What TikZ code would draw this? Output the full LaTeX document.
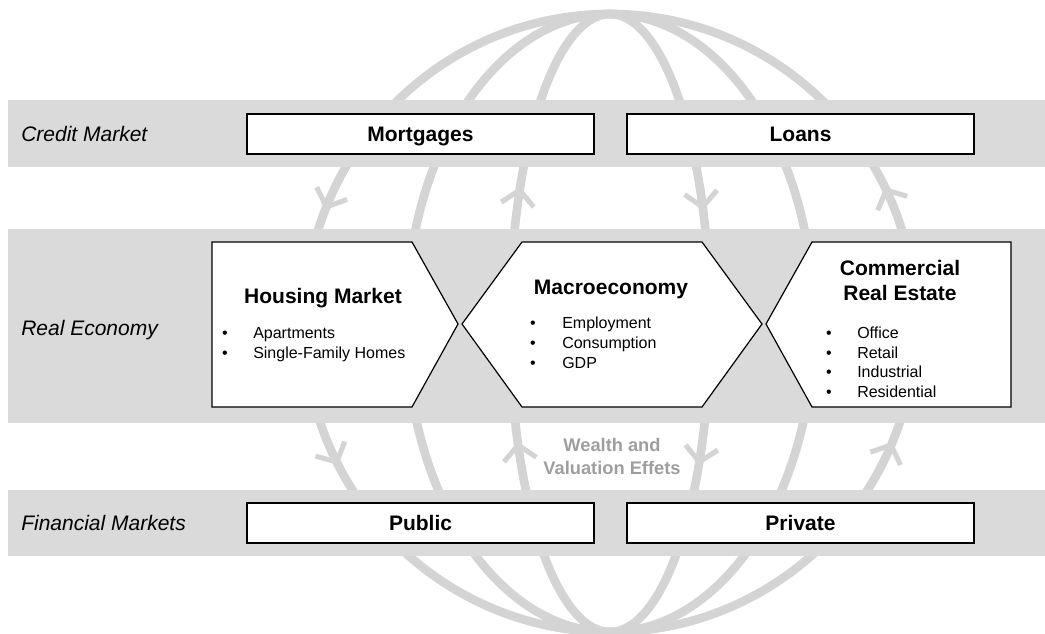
\documentclass[tikz,border=0pt]{standalone}
\usepackage{fontspec}
\setmainfont{Liberation Sans}
\definecolor{globegray}{RGB}{212,212,212}
\definecolor{bandgray}{RGB}{218,218,218}
\definecolor{wealthgray}{RGB}{158,158,158}
\begin{document}
\begin{tikzpicture}[x=0.75pt,y=-0.75pt,
	meridian/.style={globegray,line width=6.5pt},
	barb/.style={globegray,line width=3.8pt,line join=miter},
	band/.style={fill=bandgray},
	bandlabel/.style={anchor=west,inner sep=0pt,text height=11.3pt,text depth=0pt,font=\fontsize{15.75}{18}\selectfont\itshape},
	box/.style={draw,fill=white,line width=1pt,minimum width=260.25pt,minimum height=30pt,text height=11.3pt,text depth=0pt,font=\fontsize{15.75}{18}\selectfont\bfseries},
	sector/.style={draw,fill=white,line width=0.9pt},
	title/.style={inner sep=0pt,text height=11.3pt,text depth=0pt,font=\fontsize{15.75}{18}\selectfont\bfseries},
	item/.style={anchor=west,inner sep=0pt,text height=8.6pt,text depth=0pt,font=\fontsize{12}{14}\selectfont},
	dot/.style={inner sep=0pt,text height=8.6pt,text depth=0pt,font=\fontsize{12}{14}\selectfont},
	wealth/.style={inner sep=0pt,text height=9.8pt,text depth=0pt,wealthgray,font=\fontsize{13.7}{16}\selectfont\bfseries}]
	\useasboundingbox (0,0) rectangle (1045,634);
	% globe
	\foreach \a in {306,204,100}
		\draw[meridian] (610,323) ellipse [x radius=\a, y radius=309];
	% arrows on the meridians (side/half width/tip y/down or up)
	\foreach \s/\a/\yt/\d in {-1/306/207/1,-1/100/190/-1,1/100/207/1,1/306/190/-1,-1/306/462/1,-1/100/445/-1,1/100/462/1,1/306/445/-1}{
		\pgfmathsetmacro{\t}{asin((323-\yt)/309)}
		\pgfmathsetmacro{\xt}{610+(\s)*(\a)*cos(\t)}
		\pgfmathsetmacro{\ang}{atan2((\d)*309*cos(\t),(\d)*(\s)*(\a)*sin(\t))}
		\draw[barb] (\xt,\yt) ++(\ang+180-48:22) -- (\xt,\yt) -- ++(\ang+180+48:22);
	}
	% bands
	\fill[band] (8,100) rectangle (1045,167);
	\fill[band] (8,229) rectangle (1045,423);
	\fill[band] (8,490) rectangle (1045,556);
	\node[bandlabel] (credit) at (21,134) {Credit Market};
	\node[bandlabel] (real) at (21,328) {Real Economy};
	\node[bandlabel] (financial) at (21,523) {Financial Markets};
	% credit market
	\node[box] (mortgages) at (420.5,134) {Mortgages};
	\node[box] (loans) at (800.5,134) {Loans};
	% financial markets
	\node[box] (public) at (420.5,523) {Public};
	\node[box] (private) at (800.5,523) {Private};
	% real economy
	\draw[sector] (212,242) -- (412,242) -- (458,324) -- (412,407) -- (212,407) -- cycle;
	\draw[sector] (462,324) -- (522,242) -- (702,242) -- (762,324) -- (702,407) -- (522,407) -- cycle;
	\draw[sector] (766,324) -- (812,242) -- (1011,242) -- (1011,407) -- (812,407) -- cycle;
	\node[title] (housing) at (323,296) {Housing Market};
	\foreach \txt [count=\i] in {Apartments,Single-Family Homes}{
		\node[dot] (hdot\i) at (225,{313+20*\i}) {\textbullet};
		\node[item] (hitem\i) at (253,{313+20*\i}) {\txt};
	}
	\node[title] (macro) at (611,287) {Macroeconomy};
	\foreach \txt [count=\i] in {Employment,Consumption,GDP}{
		\node[dot] (mdot\i) at (533,{303+20*\i}) {\textbullet};
		\node[item] (mitem\i) at (562,{303+20*\i}) {\txt};
	}
	\node[title] (cre) at (900,268) {Commercial};
	\node[title] (cre2) at (900,293) {Real Estate};
	\foreach \txt [count=\i] in {Office,Retail,Industrial,Residential}{
		\node[dot] (cdot\i) at (829,{313.5+19.5*\i}) {\textbullet};
		\node[item] (citem\i) at (857,{313.5+19.5*\i}) {\txt};
	}
	% wealth effects
	\node[wealth] (wealth) at (612,445) {Wealth and};
	\node[wealth] (valuation) at (612,468) {Valuation Effets};
\end{tikzpicture}
\end{document}
